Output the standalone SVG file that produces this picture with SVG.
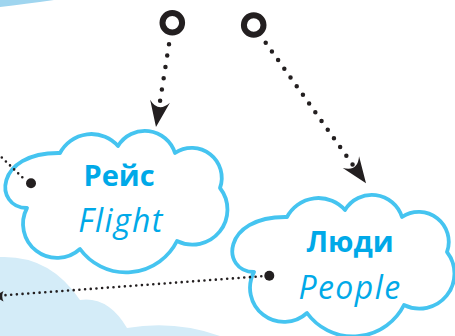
<svg xmlns="http://www.w3.org/2000/svg" width="455" height="336" viewBox="0 0 455 336">
<style>
.cloud{fill:#fff;stroke:#45c4f0;stroke-width:3.8;stroke-linejoin:round}
.t{font-family:"Open Sans","Noto Sans",sans-serif;fill:#00a9e8;text-anchor:middle}
.b{font-weight:700;font-size:29px}
.i{font-style:italic;font-weight:500;font-size:32px;letter-spacing:1.4px}
.big{fill:none;stroke:#231f20;stroke-width:4.5;stroke-linecap:round}
.fine{fill:none;stroke:#231f20;stroke-width:2.6;stroke-linecap:round;stroke-dasharray:0 5.7}
.ring{fill:none;stroke:#231f20;stroke-width:6}
.ink{fill:#231f20}
.bg1{fill:#d4ecf8}
.bg2{fill:#9fd5ef}
</style>
<defs>
<path id="cloudShape" d="M27,208 C-6,208 -6,152 60,153 A35.5,35.5 0 0 1 118,146 A31.5,31.5 0 0 1 175,153 A30,30 0 0 1 220,188 A35,35 0 0 1 177,241 A57,57 0 0 1 80,249 A34,34 0 0 1 27,208 Z"/>
<marker id="ah" markerUnits="userSpaceOnUse" markerWidth="40" markerHeight="30" viewBox="-10 -15 40 30" refX="0" refY="0" orient="auto" overflow="visible">
<path class="ink" d="M20,0 L-6,-10 Q6,0 -6,10 Z"/>
</marker>
</defs>
<path class="bg2" d="M0,0 L54,0 Q25,4 0,7 Z"/>
<path class="bg1" d="M0,257 Q50,255 80,300 Q108,296 127,328 Q175,320 220,336 L0,336 Z"/>
<g id="start1"><circle class="ring" cx="172.3" cy="22.7" r="9.8"/></g>
<g id="start2"><circle class="ring" cx="253.7" cy="25" r="9.8"/></g>
<g id="flight">
<use href="#cloudShape" class="cloud"/>
<text x="119" y="186" class="t b">Рейс</text>
<text x="121" y="232" class="t i">Flight</text>
</g>
<g id="people">
<use href="#cloudShape" class="cloud" transform="translate(227,64)"/>
<text x="350" y="252" class="t b">Люди</text>
<text x="350" y="299" class="t i">People</text>
</g>
<g id="connectors">
<path class="big" stroke-dasharray="0 11.45" d="M169,44.3 L159.1,107.2" marker-end="url(#ah)"/>
<path class="big" stroke-dasharray="0 10.68" d="M265.7,42.7 L354.4,167" marker-end="url(#ah)"/>
<path class="fine" d="M22.3,177.3 L-8,148"/>
<circle class="ink" cx="31" cy="183.3" r="5"/>
<path class="fine" d="M261.3,276.3 L5,295.2"/>
<path class="ink" d="M-6,296.2 L3.5,291 Q1,296.2 3.5,301.5 Z"/>
<circle class="ink" cx="269.3" cy="275.7" r="5"/>
</g>
</svg>
